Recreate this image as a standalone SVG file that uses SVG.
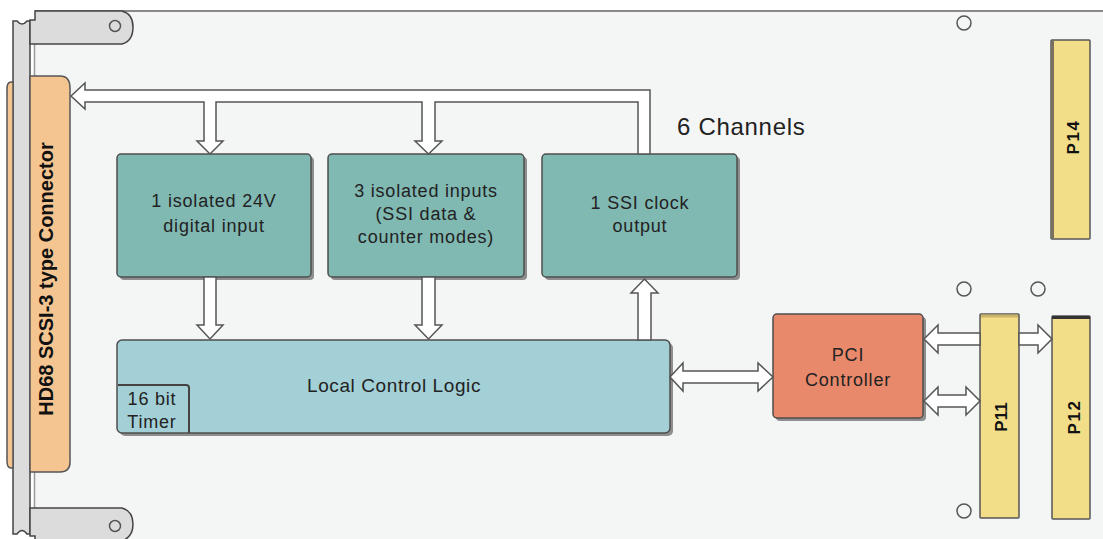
<svg xmlns="http://www.w3.org/2000/svg" width="1103" height="539" viewBox="0 0 1103 539">
<style>
text { font-family: "Liberation Sans", Arial, Helvetica, sans-serif; fill: #222; }
.blk { fill: #80b8b2; stroke: #4d4d4d; stroke-width: 1.5; }
.shd { fill: #8e8e8e; }
.t18 { font-size: 18px; letter-spacing: 0.8px; text-anchor: middle; }
.bus { fill: #ffffff; stroke: #555; stroke-width: 1.5; stroke-linejoin: miter; }
.metal { fill: #dcdcdc; stroke: #444; stroke-width: 1.5; }
.hole { fill: none; stroke: #555; stroke-width: 1.5; }
.pc { fill: #f2de88; stroke: #555; stroke-width: 1.5; }
.pl { font-size: 17px; font-weight: bold; text-anchor: middle; fill: #111; }
.orange { fill: #f5c591; stroke: #555; stroke-width: 1.5; }
</style>
<rect width="1103" height="539" fill="#ffffff"/>
<g id="board">
  <rect x="35" y="11" width="1068" height="528" fill="#f4f5f5"/>
  <line x1="35" y1="11" x2="1103" y2="11" stroke="#8a8a8a" stroke-width="2"/>
  <line x1="34.5" y1="40" x2="34.5" y2="512" stroke="#999" stroke-width="1.5"/>
  <circle class="hole" cx="964" cy="23" r="7"/>
  <circle class="hole" cx="964" cy="289" r="7"/>
  <circle class="hole" cx="1038" cy="289" r="7"/>
  <circle class="hole" cx="964" cy="511" r="7"/>
</g>
<g id="front-panel">
  <path class="metal" d="M13,21 L17,21 Q22,27 27,21 L30,21 L30,534 L27,534 Q22,527 17,534 L13,534 Z"/>
  <path class="metal" d="M30,44 L30,20 L35,20 L35,11 L122,11 Q133,14 133,27 Q133,41 122,44 Z"/>
  <path class="metal" d="M30,508 L122,508 Q133,511 133,524 Q133,537 122,541 L35,541 L35,536 L30,536 Z"/>
  <circle class="hole" cx="115" cy="26" r="5.5"/>
  <circle class="hole" cx="115" cy="526" r="5.5"/>
</g>
<g id="scsi-connector">
  <path class="orange" d="M13,82 L11,82 Q7,82 7,89 L7,461 Q7,468 11,468 L13,468 Z"/>
  <path class="orange" d="M30,76 L60,76 Q70,76 70,88 L70,462 Q70,472 60,472 L30,472 Z"/>
  <text class="pl" font-size="20" style="font-size:20px" transform="translate(53,279) rotate(-90)">HD68 SCSI-3 type Connector</text>
</g>
<g id="block-digital-input">
  <rect class="shd" x="120" y="157" width="194" height="123" rx="4"/>
  <rect class="blk" x="117" y="154" width="194" height="123" rx="4"/>
  <text class="t18" x="214" y="207">1 isolated 24V</text>
  <text class="t18" x="214" y="232">digital input</text>
</g>
<g id="block-isolated-inputs">
  <rect class="shd" x="331" y="157" width="196" height="123" rx="4"/>
  <rect class="blk" x="328" y="154" width="196" height="123" rx="4"/>
  <text class="t18" x="426" y="197">3 isolated inputs</text>
  <text class="t18" x="426" y="220">(SSI data &amp;</text>
  <text class="t18" x="426" y="243">counter modes)</text>
</g>
<g id="block-ssi-clock">
  <rect class="shd" x="545" y="157" width="195" height="123" rx="4"/>
  <rect class="blk" x="542" y="154" width="195" height="123" rx="4"/>
  <text class="t18" x="640" y="209">1 SSI clock</text>
  <text class="t18" x="640" y="232">output</text>
</g>
<g id="channels-label">
  <text x="677" y="135" style="font-size:24px; letter-spacing:0.7px">6 Channels</text>
</g>
<g id="local-control-logic">
  <rect class="shd" x="120" y="343" width="553" height="93" rx="5"/>
  <rect x="117" y="340" width="553" height="93" rx="5" fill="#a2d0d6" stroke="#4d4d4d" stroke-width="1.5"/>
  <text x="394" y="392" style="font-size:19px; letter-spacing:0.6px; text-anchor:middle">Local Control Logic</text>
  <g id="timer">
    <path d="M118,385 L186,385 Q189,385 189,388 L189,433" fill="none" stroke="#444" stroke-width="2"/>
    <text class="t18" x="152" y="405">16 bit</text>
    <text class="t18" x="152" y="428">Timer</text>
  </g>
</g>
<g id="pci-controller">
  <rect class="shd" x="776" y="317" width="150" height="104" rx="4"/>
  <rect x="773" y="314" width="150" height="104" rx="4" fill="#e8896c" stroke="#4d4d4d" stroke-width="1.5"/>
  <text class="t18" x="848" y="361">PCI</text>
  <text class="t18" x="848" y="386">Controller</text>
</g>
<g id="p11">
  <rect class="pc" x="980" y="314" width="39" height="204" rx="1"/>
  <line x1="981" y1="316" x2="1018" y2="316" stroke="#c9b46a" stroke-width="3"/>
  <text class="pl" transform="translate(1007,417) rotate(-90)">P11</text>
</g>
<g id="p12">
  <rect class="pc" x="1052" y="316" width="38" height="203" rx="1"/>
  <line x1="1052" y1="317.5" x2="1090" y2="317.5" stroke="#333" stroke-width="3"/>
  <text class="pl" style="letter-spacing:1.5px" transform="translate(1080,417) rotate(-90)">P12</text>
</g>
<g id="p14">
  <rect class="pc" x="1051" y="40" width="39" height="199" rx="1"/>
  <line x1="1052.5" y1="41" x2="1052.5" y2="238" stroke="#7a7060" stroke-width="3"/>
  <text class="pl" style="letter-spacing:1.5px" transform="translate(1079,137) rotate(-90)">P14</text>
</g>
<g id="connectors">
  <path class="bus" d="M71,96 L85,83 L85,90 L650,90 L650,154 L638,154 L638,102 L435,102 L435,141 L442,141 L428.5,154 L415,141 L422,141 L422,102 L216,102 L216,141 L223,141 L210,154 L197,141 L204,141 L204,102 L85,102 L85,109 Z"/>
  <path class="bus" d="M204,277 L216,277 L216,325 L223,325 L210,339 L197,325 L204,325 Z"/>
  <path class="bus" d="M422,277 L435,277 L435,325 L442,325 L428.5,339 L415,325 L422,325 Z"/>
  <path class="bus" d="M638,340 L651,340 L651,293 L658,293 L644.5,279 L631,293 L638,293 Z"/>
  <path class="bus" d="M670,377 L683,363 L683,371 L758,371 L758,363 L773,377 L758,391 L758,383 L683,383 L683,391 Z"/>
  <path class="bus" d="M924,339 L938,325 L938,333 L980,333 L980,345 L938,345 L938,353 Z"/>
  <path class="bus" d="M1019,333 L1038,333 L1038,325 L1052,339 L1038,353 L1038,345 L1019,345 Z"/>
  <path class="bus" d="M924,401 L938,387 L938,395 L966,395 L966,387 L980,401 L966,415 L966,407 L938,407 L938,415 Z"/>
</g>
</svg>
